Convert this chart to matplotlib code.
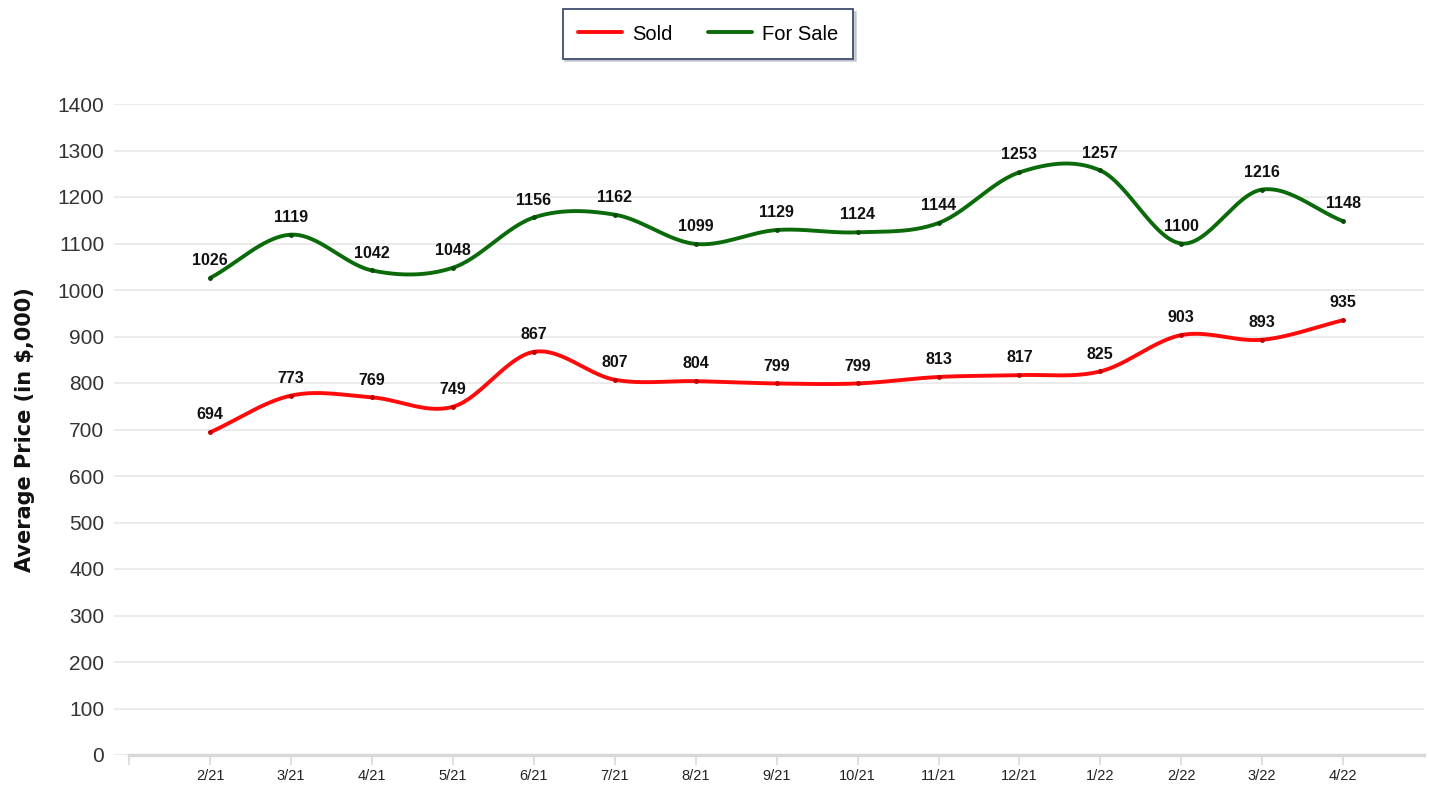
import numpy as np
import matplotlib
matplotlib.use("Agg")
import matplotlib.pyplot as plt

# data
months = ['2/21', '3/21', '4/21', '5/21', '6/21', '7/21', '8/21', '9/21',
          '10/21', '11/21', '12/21', '1/22', '2/22', '3/22', '4/22']
sold = [694, 773, 769, 749, 867, 807, 804, 799, 799, 813, 817, 825, 903, 893, 935]
for_sale = [1026, 1119, 1042, 1048, 1156, 1162, 1099, 1129, 1124, 1144, 1253, 1257, 1100, 1216, 1148]

fnt = ['Liberation Sans', 'DejaVu Sans']


def smooth(y, n=30):
    # catmull-rom curve through the points, only for drawing the line
    y = np.asarray(y, dtype=float)
    x = np.arange(len(y), dtype=float)
    m = np.empty_like(y)
    m[1:-1] = (y[2:] - y[:-2]) / 2
    m[0] = y[1] - y[0]
    m[-1] = y[-1] - y[-2]
    xs, ys = [], []
    t = np.linspace(0, 1, n)
    h00 = 2 * t**3 - 3 * t**2 + 1
    h10 = t**3 - 2 * t**2 + t
    h01 = -2 * t**3 + 3 * t**2
    h11 = t**3 - t**2
    for i in range(len(y) - 1):
        xs.append(x[i] + t)
        ys.append(h00 * y[i] + h10 * m[i] + h01 * y[i + 1] + h11 * m[i + 1])
    return np.concatenate(xs), np.concatenate(ys)


fig = plt.figure(figsize=(14.29, 7.92), dpi=100)
ax = fig.add_axes([114 / 1429, 1 - 755 / 792, (1424 - 114) / 1429, (755 - 104) / 792])

x = np.arange(len(months))
red = '#ff0a0a'
green = '#0b6b0b'

sx, sy = smooth(sold)
ax.plot(sx, sy, color=red, lw=2.8, label='Sold', zorder=3, solid_capstyle='round')
ax.plot(x, sold, 'o', color='#c00000', ms=2.5, zorder=4)
fx, fy = smooth(for_sale)
ax.plot(fx, fy, color=green, lw=2.8, label='For Sale', zorder=3, solid_capstyle='round')
ax.plot(x, for_sale, 'o', color='#0a4a0a', ms=2.5, zorder=4)

for i in range(len(months)):
    ax.annotate(str(sold[i]), (x[i], sold[i]), xytext=(0, 12.5), textcoords='offset points',
                ha='center', va='center', fontsize=11.5, fontweight='bold', family=fnt, color='#111111')
    ax.annotate(str(for_sale[i]), (x[i], for_sale[i]), xytext=(0, 12.5), textcoords='offset points',
                ha='center', va='center', fontsize=11.5, fontweight='bold', family=fnt, color='#111111')

ax.set_xlim(-1.19, 15.0)
ax.set_ylim(0, 1400)
ax.set_yticks(range(0, 1401, 100))
ax.yaxis.grid(True, color='#e8e8e8', lw=1.2)
ax.set_axisbelow(True)
for s in ax.spines.values():
    s.set_visible(False)

# x axis line and ticks
ax.plot([-1, 15], [0, 0], color='#d9d9d9', lw=2.5, clip_on=False, zorder=2)
ax.set_xticks(range(-1, 15))
ax.set_xticklabels([''] + months, family=fnt, fontsize=10.5, color='#222222')
ax.tick_params(axis='x', length=7, width=1.2, color='#d9d9d9', pad=3)
ax.tick_params(axis='y', length=0, pad=7)
for lab in ax.get_yticklabels():
    lab.set_family(fnt)
    lab.set_fontsize(15)
    lab.set_color('#333333')

ax.set_ylabel('Average Price (in $,000)', fontsize=15, fontweight='bold', family='DejaVu Sans', color='#111111')
ax.yaxis.set_label_coords(-(114 - 35) / 1310, (755 - 430) / 651)

leg = fig.legend(loc='center', bbox_to_anchor=(708 / 1429, 1 - 34 / 792), ncol=2, frameon=True,
                 fancybox=False, shadow={'color': '#b0b6c0', 'alpha': 0.6, 'ox': 2, 'oy': -2},
                 handlelength=2.2, columnspacing=1.75, borderpad=0.75, handletextpad=0.5,
                 prop={'family': 'Liberation Sans', 'size': 14.5})
leg.get_frame().set_edgecolor('#3e4e6e')
leg.get_frame().set_linewidth(1.3)

fig.savefig('out.png', dpi=100, facecolor='white')
